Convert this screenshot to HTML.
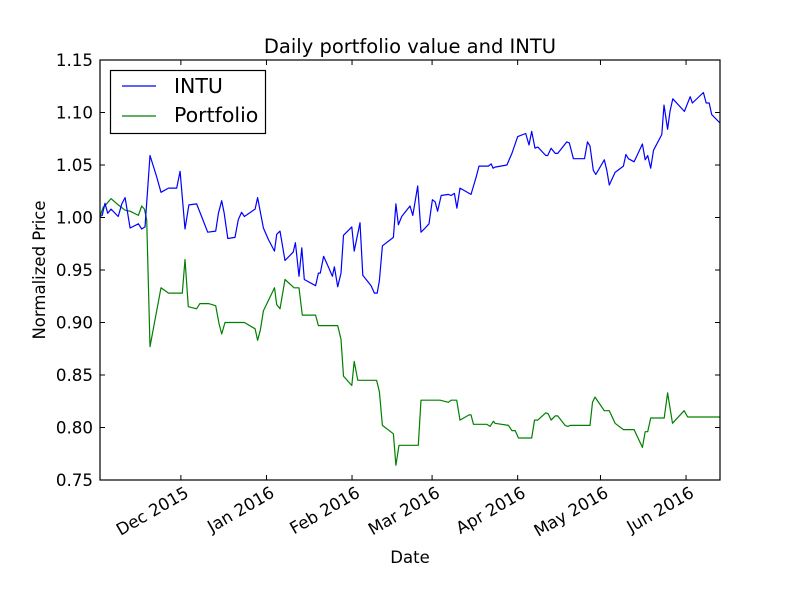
<!DOCTYPE html>
<html><head><meta charset="utf-8"><style>
body{margin:0;background:#fff}
svg{display:block;font-family:"DejaVu Sans","Liberation Sans",sans-serif}
</style></head><body>
<svg id="chart" width="800" height="600" viewBox="0 0 800 600">
<rect width="800" height="600" fill="#fff"/>
<text x="410" y="53" text-anchor="middle" font-size="19.5">Daily portfolio value and INTU</text>
<text x="410" y="563" text-anchor="middle" font-size="16.5">Date</text>
<text x="0" y="0" transform="translate(45,270) rotate(-90)" text-anchor="middle" font-size="16.5">Normalized Price</text>
<g id="grid"></g>
<g id="series"></g>
<rect x="100" y="60" width="620" height="420" fill="none" stroke="#000" stroke-width="1.2"/>
<g>
<rect x="110.5" y="70.5" width="155" height="63" fill="#fff" stroke="#000" stroke-width="1.2"/>
<line x1="122" y1="86" x2="156" y2="86" stroke="#0000ff" stroke-width="1.2"/>
<text x="174" y="93" font-size="20.5">INTU</text>
<line x1="122" y1="116" x2="156" y2="116" stroke="#008000" stroke-width="1.2"/>
<text x="174" y="122" font-size="20.5">Portfolio</text>
</g>
</svg>
<script>
// days since 2015-11-02
const intuDays=[0,0.8,1.8,2.8,4.0,6.6,7.9,9.1,10.9,13.9,15.1,16.3,18.1,20.5,22.1,24.8,27.8,29.0,30.8,32.2,35.0,36.8,39.0,41.9,42.9,44.1,45.0,46.3,48.9,50.1,51.3,52.3,56.2,57.1,59.2,61.0,63.2,64.0,65.2,67.0,70.0,70.8,72.1,73.1,74.0,78.1,79.1,79.8,81.0,82.7,84.2,84.9,86.1,87.3,88.2,91.2,92.1,94.2,95.2,98.2,99.4,100.4,101.2,102.3,106.3,107.2,108.1,109.3,112.3,113.3,115.1,116.3,117.8,119.2,120.4,121.4,122.3,123.6,126.2,127.2,128.4,129.3,130.4,134.4,135.3,136.2,137.3,140.7,141.7,142.4,143.1,147.4,149.2,151.3,154.2,155.4,156.4,157.6,158.6,161.5,162.2,163.4,164.9,165.8,169.1,170.0,171.5,175.5,176.6,177.5,178.7,179.6,182.7,183.6,184.5,186.6,189.6,190.5,191.4,193.5,196.5,197.5,198.4,199.5,200.5,203.5,204.3,205.6,206.5,207.5,211.7,213.8,214.6,218.6,219.6,220.7,221.6,224.6];
const intuValues=[1.001,1.002,1.0135,1.004,1.008,1.001,1.013,1.019,0.990,0.994,0.989,0.991,1.059,1.039,1.024,1.028,1.028,1.044,0.989,1.012,1.013,1.001,0.986,0.987,1.004,1.016,1.004,0.980,0.981,0.998,1.005,1.001,1.008,1.019,0.990,0.979,0.968,0.984,0.987,0.959,0.967,0.976,0.944,0.971,0.941,0.935,0.947,0.947,0.963,0.953,0.944,0.953,0.934,0.947,0.983,0.991,0.968,0.995,0.945,0.935,0.928,0.928,0.940,0.973,0.981,1.013,0.993,1.001,1.011,1.002,1.030,0.986,0.990,0.994,1.017,1.015,1.006,1.021,1.022,1.021,1.023,1.009,1.028,1.022,1.030,1.038,1.049,1.049,1.051,1.047,1.048,1.050,1.061,1.077,1.080,1.069,1.082,1.066,1.067,1.059,1.059,1.066,1.061,1.061,1.072,1.071,1.056,1.056,1.072,1.068,1.045,1.041,1.055,1.045,1.031,1.043,1.049,1.060,1.056,1.053,1.070,1.055,1.059,1.047,1.064,1.079,1.107,1.084,1.101,1.113,1.101,1.115,1.109,1.119,1.109,1.109,1.098,1.090];
const portDays=[0,1.2,2.4,4.0,6.6,9.1,10.9,13.9,15.1,16.1,16.9,18.1,19.9,22.1,24.8,29.8,30.8,32.0,35.0,36.2,39.3,41.9,43.1,44.1,45.3,52.3,56.2,57.1,58.1,59.2,63.2,64.0,65.2,67.0,70.3,72.1,73.3,78.1,79.1,86.1,87.3,88.2,91.2,92.1,93.4,100.2,101.2,102.3,106.3,107.2,108.3,115.3,116.3,123.2,126.2,127.2,129.2,130.4,133.7,134.4,135.3,140.1,141.3,142.5,143.1,148.0,149.2,150.4,151.6,156.4,157.4,158.6,161.5,162.4,163.4,164.9,165.8,168.5,169.5,170.3,177.5,178.4,179.3,182.7,184.5,186.6,189.6,193.5,196.5,197.5,198.4,199.5,204.4,205.6,207.4,211.6,212.9,224.6];
const portValues=[1.001,1.010,1.013,1.018,1.012,1.007,1.006,1.002,1.011,1.008,0.998,0.877,0.902,0.933,0.928,0.928,0.960,0.915,0.913,0.918,0.918,0.916,0.899,0.889,0.900,0.900,0.894,0.883,0.893,0.911,0.933,0.917,0.913,0.941,0.933,0.933,0.907,0.907,0.897,0.897,0.884,0.849,0.840,0.863,0.845,0.845,0.834,0.802,0.794,0.764,0.783,0.783,0.826,0.826,0.824,0.826,0.826,0.807,0.812,0.812,0.803,0.803,0.801,0.806,0.804,0.802,0.797,0.797,0.790,0.790,0.807,0.807,0.814,0.813,0.807,0.811,0.811,0.802,0.801,0.802,0.802,0.824,0.829,0.816,0.816,0.804,0.798,0.798,0.781,0.796,0.796,0.809,0.809,0.833,0.804,0.816,0.810,0.810];
const xTickDays=[29.3,60.3,91.3,120.3,151.3,181.3,212.3];
const xTickLabels=["Dec 2015","Jan 2016","Feb 2016","Mar 2016","Apr 2016","May 2016","Jun 2016"];
const yTicks=[0.75,0.80,0.85,0.90,0.95,1.00,1.05,1.10,1.15];

const NS="http://www.w3.org/2000/svg";
const X0=100,X1=720,Y0=480,Y1=60,DMAX=224.6,VMIN=0.75,VMAX=1.15;
function xs(d){return X0+(d/DMAX)*(X1-X0);}
function ys(v){return Y0-(v-VMIN)/(VMAX-VMIN)*(Y0-Y1);}
function mk(tag,attrs,parent){const e=document.createElementNS(NS,tag);for(const k in attrs)e.setAttribute(k,attrs[k]);parent.appendChild(e);return e;}
const grid=document.getElementById('grid'),series=document.getElementById('series');

yTicks.forEach(v=>{
  const y=ys(v);
  const t1=mk('line',{x1:X0,y1:y,x2:X0+5,y2:y,stroke:'#000'},grid);
  
  
  const t2=mk('line',{x1:X1-5,y1:y,x2:X1,y2:y,stroke:'#000'},grid);
  
  
  const tx=mk('text',{x:X0-7,y:y+6,'text-anchor':'end','font-size':'16.7'},grid);
  tx.textContent=v.toFixed(2);
  
  
});
xTickDays.forEach((d,i)=>{
  const x=xs(d);
  const t1=mk('line',{x1:x,y1:Y0,x2:x,y2:Y0-5,stroke:'#000'},grid);
  
  
  const t2=mk('line',{x1:x,y1:Y1,x2:x,y2:Y1+5,stroke:'#000'},grid);
  
  
  const tx=mk('text',{x:0,y:0,'text-anchor':'end','font-size':'16.7',transform:`translate(${x+9},${Y0+16}) rotate(-30)`},grid);
  tx.textContent=xTickLabels[i];
  
  
});
function line(days,vals,color,name){
  const pts=days.map((d,i)=>xs(d).toFixed(1)+','+ys(vals[i]).toFixed(1)).join(' ');
  const p=mk('polyline',{points:pts,fill:'none',stroke:color,'stroke-width':'1.2','stroke-linejoin':'round'},series);
  
  
}
line(portDays,portValues,'#008000','portfolio-line');
line(intuDays,intuValues,'#0000ff','intu-line');
</script>
</body></html>
